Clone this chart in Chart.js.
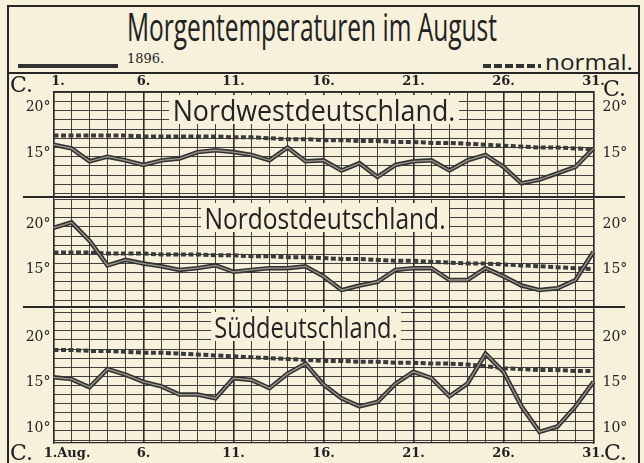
<!DOCTYPE html>
<html>
<head>
<meta charset="utf-8">
<script src="https://cdn.jsdelivr.net/npm/chart.js@4/dist/chart.umd.min.js"></script>
<style>
  html, body { margin: 0; padding: 0; background: #f7f1dc; }
  #sheet { position: relative; width: 644px; height: 463px; overflow: hidden; background: #f7f1dc; }
  canvas { position: absolute; left: 0; }
  .rule { position: absolute; background: #262626; }
  .txt { position: absolute; white-space: nowrap; line-height: 1; color: #222;
         font-family: 'Open Sans', 'DejaVu Sans', sans-serif; font-weight: 400; }
  .serif { font-family: 'DejaVu Serif', 'Liberation Serif', serif; font-weight: 400; }
  .plate { background: #f7f1dc; padding: 0 4px; }
</style>
</head>
<body>
<div id="sheet">
  <!-- frame -->
  <div class="rule" style="left:7px;top:5px;width:2px;height:460px"></div>
  <div class="rule" style="left:638px;top:5px;width:2px;height:460px"></div>
  <div class="rule" style="left:7px;top:5px;width:633px;height:2px"></div>
  <div class="rule" style="left:7px;top:72px;width:633px;height:2px"></div>
  <div class="rule" style="left:23px;top:196px;width:602px;height:2px"></div>
  <div class="rule" style="left:23px;top:306px;width:602px;height:2px"></div>

  <!-- heading and key -->
  <div class="txt" data-fit="370" style="left:127px;top:7px;font-size:38px">Morgentemperaturen im August</div>
  <div style="position:absolute;left:18px;top:64px;width:100px;height:4px;background:#333"></div>
  <div class="txt serif" style="left:127px;top:52px;font-size:13px">1896.</div>
  <div style="position:absolute;left:483px;top:64px;width:58px;height:4px;
       background:repeating-linear-gradient(90deg,#333 0 8px,transparent 8px 11px)"></div>
  <div class="txt" data-fit="88" style="left:545px;top:50px;font-size:22px">normal.</div>

  <canvas id="c1" width="644" height="125" style="top:73px"></canvas>
  <canvas id="c2" width="644" height="111" style="top:197px"></canvas>
  <canvas id="c3" width="644" height="156" style="top:307px"></canvas>

  <!-- region names -->
  <div class="txt plate" data-fit="290" style="left:169px;top:95px;font-size:29px">Nordwestdeutschland.</div>
  <div class="txt plate" data-fit="248" style="left:201px;top:203px;font-size:29px">Nordostdeutschland.</div>
  <div class="txt plate" data-fit="190" style="left:211px;top:312px;font-size:29px">Süddeutschland.</div>

  <!-- unit marks -->
  <div class="txt serif" style="left:10px;top:74px;font-size:22px">C.</div>
  <div class="txt serif" style="left:603px;top:78px;font-size:22px">C.</div>
  <div class="txt serif" style="left:10px;top:442px;font-size:22px">C.</div>
  <div class="txt serif" style="left:604px;top:442px;font-size:22px">C.</div>
</div>

<script>
// Squeeze hand-lettered captions to their drawn widths
document.querySelectorAll('[data-fit]').forEach((el) => {
  const w = el.getBoundingClientRect().width;
  el.style.transformOrigin = '0 0';
  el.style.transform = 'scaleX(' + (+el.dataset.fit / w) + ')';
});

// Days of August 1896
const days = [1, 2, 3, 4, 5, 6, 7, 8, 9, 10, 11, 12, 13, 14, 15, 16,
              17, 18, 19, 20, 21, 22, 23, 24, 25, 26, 27, 28, 29, 30, 31];
const labelledDays = [1, 6, 11, 16, 21, 26, 31];
const topDayLabels = ['  1.', '6.', '11.', '16.', '21.', '26.', '31.'];
const bottomDayLabels = ['      1.Aug.', '6.', '11.', '16.', '21.', '26.', '31.'];

// Morning temperatures (°C), 1896
const nordwest1896 = [16.3, 15.9, 14.5, 15.0, 14.6, 14.1, 14.6, 14.8, 15.5, 15.7, 15.5, 15.2, 14.6, 16.0, 14.5, 14.6,
                      13.5, 14.3, 12.8, 14.1, 14.5, 14.6, 13.5, 14.6, 15.2, 13.9, 12.1, 12.5, 13.2, 13.9, 15.9];
const nordost1896  = [19.9, 20.5, 18.5, 15.8, 16.4, 16.0, 15.7, 15.3, 15.5, 15.8, 15.1, 15.3, 15.5, 15.5, 15.7, 14.6,
                      13.1, 13.6, 14.0, 15.3, 15.5, 15.5, 14.2, 14.2, 15.5, 14.6, 13.6, 13.1, 13.3, 14.2, 17.3];
const sued1896     = [15.9, 15.7, 14.8, 16.8, 16.2, 15.4, 14.9, 14.0, 14.0, 13.6, 15.8, 15.6, 14.7, 16.3, 17.4, 15.1,
                      13.6, 12.7, 13.2, 15.2, 16.5, 15.8, 13.8, 15.2, 18.5, 16.5, 12.7, 9.9, 10.5, 12.7, 15.4];

// Long-term normal morning temperatures (°C)
const nordwestNormal = [17.3, 17.3, 17.3, 17.3, 17.3, 17.2, 17.2, 17.2, 17.2, 17.2, 17.1, 17.1, 17.0, 16.9, 16.9, 16.8,
                        16.8, 16.7, 16.7, 16.6, 16.6, 16.5, 16.5, 16.4, 16.3, 16.2, 16.1, 16.0, 16.0, 15.9, 15.8];
const nordostNormal  = [17.2, 17.2, 17.2, 17.1, 17.1, 17.1, 17.0, 17.0, 17.0, 16.9, 16.9, 16.8, 16.8, 16.7, 16.7, 16.6,
                        16.5, 16.5, 16.4, 16.3, 16.3, 16.2, 16.1, 16.0, 16.0, 15.9, 15.8, 15.7, 15.6, 15.5, 15.4];
const suedNormal     = [18.9, 18.9, 18.8, 18.8, 18.7, 18.6, 18.6, 18.5, 18.4, 18.3, 18.2, 18.1, 18.0, 17.9, 17.8, 17.7,
                        17.7, 17.6, 17.6, 17.5, 17.5, 17.4, 17.4, 17.3, 17.1, 16.9, 16.8, 16.7, 16.7, 16.6, 16.6];

// Degree values that carry a label on the temperature axes
const degreeLabelsNorth = [15, 20];
const degreeLabelsSouth = [10, 15, 20];

const INK = '#2b2b2b';
const LINE_DARK = '#323232';
const LINE_CORE = 'rgba(175,170,155,0.85)';

function integerTicks(axis) {
  const ticks = [];
  for (let v = Math.ceil(axis.min); v <= Math.floor(axis.max); v++) ticks.push({ value: v });
  axis.ticks = ticks;
}

// Keep the plot area exactly inside the padding: no extra room for edge labels
function noEdgePadding(s) {
  s.paddingTop = 0; s.paddingBottom = 0; s.paddingLeft = 0; s.paddingRight = 0;
}

function makePanel(id, opts) {
  const tempAxis = (position) => ({
    type: 'linear',
    position,
    min: opts.min,
    max: opts.max,
    afterBuildTicks: integerTicks,
    afterFit: (s) => { s.width = 45; noEdgePadding(s); },
    border: { display: true, color: INK, width: 1.2 },
    grid: { display: position === 'left', color: INK, lineWidth: 0.9, drawTicks: false },
    ticks: {
      autoSkip: false,
      padding: position === 'left' ? 3 : 9,
      color: '#222',
      labelOffset: -3,
      font: { family: "'DejaVu Serif', serif", size: 14 },
      callback: (v) => (opts.degreeLabels.includes(v) ? v + '°' : '')
    }
  });

  const xLabels = opts.dayLabels;
  return new Chart(document.getElementById(id), {
    type: 'line',
    data: {
      labels: days,
      datasets: [
        { data: opts.normal, borderColor: '#3a3a3a', borderWidth: 4, borderDash: [5, 2.5],
          pointRadius: 0, tension: 0, order: 3 },
        { data: opts.actual, borderColor: LINE_DARK, borderWidth: 4.5,
          pointRadius: 0, tension: 0, order: 2 },
        { data: opts.actual, borderColor: LINE_CORE, borderWidth: 1.3,
          pointRadius: 0, tension: 0, order: 1 }
      ]
    },
    options: {
      responsive: false,
      animation: false,
      devicePixelRatio: 1,
      layout: { padding: { left: 8.5, right: 5.5, top: opts.padTop, bottom: opts.padBottom } },
      plugins: { legend: { display: false }, tooltip: { enabled: false } },
      scales: {
        x: {
          type: 'category',
          position: opts.xPosition,
          offset: false,
          afterFit: (s) => { s.height = opts.xHeight; noEdgePadding(s); },
          border: { display: true, color: INK, width: 1.2 },
          grid: {
            color: INK,
            drawTicks: false,
            lineWidth: (c) => (c.index % 5 === 0 ? 1.6 : 0.9)
          },
          ticks: {
            display: !!xLabels,
            autoSkip: false,
            maxRotation: 0,
            padding: 3,
            color: '#222',
            font: { family: "'DejaVu Serif', serif", size: 13, weight: 'bold' },
            callback: (v, i) => {
              const k = labelledDays.indexOf(days[i]);
              return xLabels && k >= 0 ? xLabels[k] : '';
            }
          }
        },
        y: tempAxis('left'),
        yRight: tempAxis('right')
      }
    }
  });
}

makePanel('c1', {
  actual: nordwest1896, normal: nordwestNormal, degreeLabels: degreeLabelsNorth,
  min: 10.62, max: 22.03, padTop: 0, padBottom: 1,
  xPosition: 'top', xHeight: 19, dayLabels: topDayLabels
});
makePanel('c2', {
  actual: nordost1896, normal: nordostNormal, degreeLabels: degreeLabelsNorth,
  min: 11.25, max: 23.06, padTop: 2, padBottom: 1,
  xPosition: 'bottom', xHeight: 0, dayLabels: null
});
makePanel('c3', {
  actual: sued1896, normal: suedNormal, degreeLabels: degreeLabelsSouth,
  min: 8.68, max: 23.4, padTop: 2, padBottom: 0,
  xPosition: 'bottom', xHeight: 20, dayLabels: bottomDayLabels
});
</script>
</body>
</html>
